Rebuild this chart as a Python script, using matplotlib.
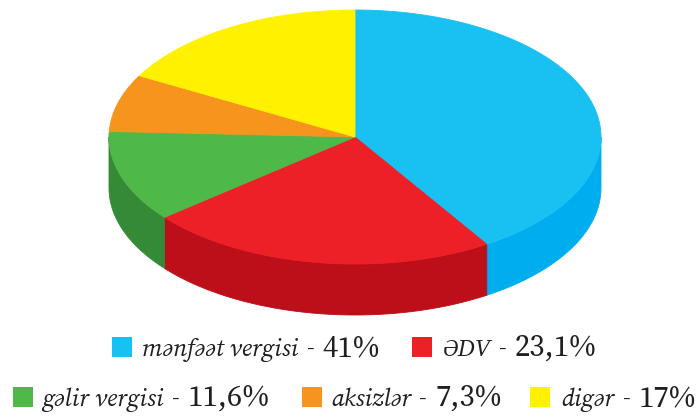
import numpy as np
import matplotlib
matplotlib.use("Agg")
import matplotlib.pyplot as plt


# =========================
# DATA
# =========================

LABELS = ["mənfəət vergisi", "ƏDV", "gəlir vergisi", "aksizlər", "digər"]
VALUES = [41, 23.1, 11.6, 7.3, 17]
VALUE_TEXT = ["41%", "23,1%", "11,6%", "7,3%", "17%"]

TOP_COLORS = ["#19c1f3", "#ed1f27", "#4eb848", "#f7941e", "#fff100"]
SIDE_COLORS = ["#00aeef", "#bc0f19", "#348a36", "#d97a10", "#d9cc00"]

# pie geometry (pixel coords)
CX, CY = 355, 137
RX, RY = 246, 127
DEPTH = 51

TEXT_COLOR = "#231f20"
FONT = ["Source Serif 4", "Noto Serif", "DejaVu Serif"]

# legend layout: (square x, square top y, label x, baseline y)
LEGEND_POS = [
    (112, 337, 142, 356),
    (412, 337, 443, 356),
    (13, 387, 42, 406),
    (302, 387, 331, 406),
    (530, 387, 561, 406),
]
SQ = 20


def arc(t_from, t_to, n=200, dy=0):
    t = np.radians(np.linspace(t_from, t_to, n))
    return CX + RX * np.cos(t), CY - RY * np.sin(t) + dy


fig = plt.figure(figsize=(7, 4.17), dpi=100)
ax = fig.add_axes([0, 0, 1, 1])
ax.set_xlim(0, 700)
ax.set_ylim(417, 0)
ax.axis("off")

cum = np.concatenate([[0], np.cumsum(VALUES)]) / np.sum(VALUES)
edges = 90 - 360 * cum

# sides (visible front half: angles between -180 and 0)
for i in range(len(VALUES)):
    t0, t1 = edges[i], edges[i + 1]
    hi, lo = min(t0, 0), max(t1, -180)
    if hi <= lo:
        continue
    xt, yt = arc(hi, lo)
    xb, yb = arc(lo, hi, dy=DEPTH)
    ax.fill(np.concatenate([xt, xb]), np.concatenate([yt, yb]),
            color=SIDE_COLORS[i], lw=0.6, ec=SIDE_COLORS[i], zorder=1)

# top faces
for i in range(len(VALUES)):
    xs, ys = arc(edges[i], edges[i + 1])
    ax.fill(np.concatenate([[CX], xs]), np.concatenate([[CY], ys]),
            color=TOP_COLORS[i], lw=0.6, ec=TOP_COLORS[i], zorder=2)

# legend
fig.canvas.draw()
renderer = fig.canvas.get_renderer()
for i, (sx, sy, lx, by) in enumerate(LEGEND_POS):
    ax.add_patch(plt.Rectangle((sx, sy), SQ, SQ, color=TOP_COLORS[i], lw=0))
    t = ax.text(lx, by, LABELS[i], fontsize=18, fontstyle="italic",
                family=FONT, color=TEXT_COLOR, va="baseline", ha="left")
    bb = t.get_window_extent(renderer=renderer)
    x_end = ax.transData.inverted().transform((bb.x1, bb.y0))[0]
    ax.text(x_end + 8, by, "-", fontsize=18, family=FONT,
            color=TEXT_COLOR, va="baseline", ha="left")
    ax.text(x_end + 24, by, VALUE_TEXT[i], fontsize=22, family=FONT,
            color=TEXT_COLOR, va="baseline", ha="left")

fig.savefig("out.png", dpi=100)
